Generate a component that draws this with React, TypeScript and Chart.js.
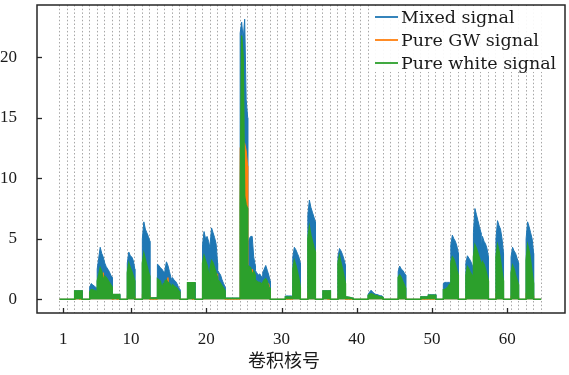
import React, { useEffect, useRef } from "react";
import { Chart, registerables } from "chart.js";

Chart.register(...registerables);

// kernel index (卷积核号) 1..64, six samples across each kernel
const kernelCount = 64;
const samplesPerKernel = 6;

const mixedSignal: number[][] = [
  [0, 0, 0, 0, 0, 0], // 1
  [0, 0, 0, 0, 0, 0], // 2
  [0.7, 0.7, 0.7, 0.7, 0.7, 0.7], // 3
  [0, 0, 0, 0, 0, 0], // 4
  [1.0, 1.3, 1.2, 1.1, 1.0, 0.9], // 5
  [2.5, 3.4, 4.3, 3.8, 3.5, 3.0], // 6
  [3.0, 2.7, 2.5, 2.3, 2.0, 1.8], // 7
  [0.4, 0.4, 0.4, 0.4, 0.4, 0.4], // 8
  [0, 0, 0, 0, 0, 0], // 9
  [3.0, 3.9, 3.6, 3.5, 3.2, 2.5], // 10
  [0, 0, 0, 0, 0, 0], // 11
  [5.0, 6.4, 5.8, 5.5, 5.2, 4.8], // 12
  [0.12, 0.12, 0.12, 0.12, 0.12, 0.12], // 13
  [2.9, 2.8, 2.6, 2.5, 2.3, 2.2], // 14
  [2.4, 3.1, 2.8, 2.3, 1.8, 1.5], // 15
  [1.8, 1.6, 1.5, 1.3, 1.0, 0.8], // 16
  [0, 0, 0, 0, 0, 0], // 17
  [1.37, 1.37, 1.37, 1.37, 1.37, 1.37], // 18
  [0, 0, 0, 0, 0, 0], // 19
  [4.5, 5.6, 5.0, 5.2, 4.8, 4.2], // 20
  [4.5, 5.9, 5.5, 5.1, 4.6, 3.0], // 21
  [2.4, 2.2, 2.0, 1.6, 1.3, 1.0], // 22
  [0.1, 0.1, 0.1, 0.1, 0.1, 0.1], // 23
  [0.1, 0.1, 0.1, 0.1, 0.1, 0.1], // 24
  [22.0, 22.9, 21.5, 23.15, 16.5, 15.0], // 25
  [4.5, 5.0, 5.2, 5.2, 3.5, 2.8], // 26
  [2.4, 2.2, 2.0, 2.1, 1.9, 1.8], // 27
  [2.2, 2.5, 2.8, 2.4, 2.0, 1.5], // 28
  [0, 0, 0, 0, 0, 0], // 29
  [0, 0, 0, 0, 0, 0], // 30
  [0.28, 0.28, 0.28, 0.28, 0.28, 0.28], // 31
  [3.5, 4.3, 4.1, 3.8, 3.5, 3.0], // 32
  [0, 0, 0, 0, 0, 0], // 33
  [7.0, 8.2, 7.6, 7.2, 6.8, 6.4], // 34
  [0, 0, 0, 0, 0, 0], // 35
  [0.7, 0.7, 0.7, 0.7, 0.7, 0.7], // 36
  [0, 0, 0, 0, 0, 0], // 37
  [3.5, 4.2, 4.0, 3.7, 3.3, 2.8], // 38
  [0.2, 0.2, 0.18, 0.15, 0.12, 0.1], // 39
  [0, 0, 0, 0, 0, 0], // 40
  [0, 0, 0, 0, 0, 0], // 41
  [0.4, 0.6, 0.75, 0.6, 0.5, 0.4], // 42
  [0.4, 0.4, 0.35, 0.3, 0.3, 0.2], // 43
  [0, 0, 0, 0, 0, 0], // 44
  [0, 0, 0, 0, 0, 0], // 45
  [2.3, 2.75, 2.5, 2.4, 2.2, 2.0], // 46
  [0, 0, 0, 0, 0, 0], // 47
  [0, 0, 0, 0, 0, 0], // 48
  [0.22, 0.22, 0.22, 0.22, 0.22, 0.22], // 49
  [0.38, 0.38, 0.38, 0.38, 0.38, 0.38], // 50
  [0, 0, 0, 0, 0, 0], // 51
  [1.3, 1.4, 1.4, 1.4, 1.4, 1.4], // 52
  [4.5, 5.3, 5.0, 4.8, 4.4, 3.8], // 53
  [0, 0, 0, 0, 0, 0], // 54
  [3.0, 3.6, 3.4, 3.2, 2.9, 2.5], // 55
  [5.5, 7.5, 7.0, 6.5, 6.0, 5.5], // 56
  [4.0, 5.2, 4.8, 4.6, 4.2, 3.5], // 57
  [0, 0, 0, 0, 0, 0], // 58
  [5.0, 6.5, 6.1, 5.8, 5.0, 3.8], // 59
  [0, 0, 0, 0, 0, 0], // 60
  [3.5, 4.3, 4.0, 3.8, 3.4, 3.0], // 61
  [0, 0, 0, 0, 0, 0], // 62
  [5.0, 6.4, 6.0, 5.5, 5.0, 3.8], // 63
  [0, 0, 0, 0, 0, 0], // 64
];

const gwSignal: number[][] = [
  [0, 0, 0, 0, 0, 0], // 1
  [0, 0, 0, 0, 0, 0], // 2
  [0, 0, 0.15, 0, 0, 0], // 3
  [0, 0, 0, 0, 0, 0], // 4
  [0.1, 0.2, 0.2, 0.2, 0.1, 0.1], // 5
  [0.3, 0.6, 1.0, 1.2, 2.2, 0.5], // 6
  [0.3, 0.3, 0.2, 0.2, 0.2, 0.1], // 7
  [0, 0, 0.1, 0, 0, 0], // 8
  [0, 0, 0, 0, 0, 0], // 9
  [0.3, 0.5, 0.5, 0.4, 0.3, 0.2], // 10
  [0, 0, 0, 0, 0, 0], // 11
  [0.4, 0.6, 0.6, 0.5, 0.4, 0.3], // 12
  [0, 0, 0, 0, 0, 0], // 13
  [0.3, 0.3, 0.4, 1.0, 0.4, 0.3], // 14
  [0.3, 0.6, 1.8, 0.5, 0.3, 0.2], // 15
  [0.2, 0.2, 0.2, 0.2, 0.1, 0.1], // 16
  [0, 0, 0, 0, 0, 0], // 17
  [0, 0.3, 0.3, 0, 0, 0], // 18
  [0, 0, 0, 0, 0, 0], // 19
  [0.4, 0.6, 0.6, 0.5, 0.4, 0.3], // 20
  [0.4, 0.6, 0.6, 0.5, 0.4, 2.1], // 21
  [0.2, 0.2, 0.2, 0.2, 0.1, 0.1], // 22
  [0, 0, 0, 0, 0, 0], // 23
  [0, 0, 0, 0, 0, 0], // 24
  [12.5, 13.0, 13.0, 12.9, 12.3, 11.0], // 25
  [0.5, 0.8, 1.0, 2.5, 1.0, 0.5], // 26
  [0.3, 0.3, 0.3, 0.3, 0.2, 0.2], // 27
  [0.3, 0.5, 0.8, 1.2, 1.3, 0.5], // 28
  [0, 0, 0, 0, 0, 0], // 29
  [0, 0, 0, 0, 0, 0], // 30
  [0, 0, 0, 0, 0, 0], // 31
  [0.3, 0.5, 0.5, 0.4, 0.3, 0.2], // 32
  [0, 0, 0, 0, 0, 0], // 33
  [0.5, 0.8, 0.8, 0.7, 0.6, 0.5], // 34
  [0, 0, 0, 0, 0, 0], // 35
  [0, 0.2, 0.2, 0, 0, 0], // 36
  [0, 0, 0, 0, 0, 0], // 37
  [0.3, 0.5, 0.5, 0.4, 0.3, 0.2], // 38
  [0, 0, 0, 0, 0, 0], // 39
  [0, 0, 0, 0, 0, 0], // 40
  [0, 0, 0, 0, 0, 0], // 41
  [0.1, 0.2, 0.3, 0.45, 0.2, 0.1], // 42
  [0.1, 0.1, 0.1, 0.1, 0.1, 0.05], // 43
  [0, 0, 0, 0, 0, 0], // 44
  [0, 0, 0, 0, 0, 0], // 45
  [0.2, 0.3, 0.3, 0.3, 0.2, 0.2], // 46
  [0, 0, 0, 0, 0, 0], // 47
  [0, 0, 0, 0, 0, 0], // 48
  [0, 0, 0, 0, 0, 0], // 49
  [0, 0, 0, 0, 0, 0], // 50
  [0, 0, 0, 0, 0, 0], // 51
  [0.1, 0.1, 0.1, 0.1, 0.1, 0.1], // 52
  [0.4, 0.5, 0.5, 0.4, 0.4, 0.3], // 53
  [0, 0, 0, 0, 0, 0], // 54
  [0.3, 0.4, 0.4, 0.3, 0.3, 0.2], // 55
  [0.5, 0.7, 0.7, 0.6, 0.5, 0.5], // 56
  [0.4, 0.5, 0.5, 0.4, 0.4, 0.3], // 57
  [0, 0, 0, 0, 0, 0], // 58
  [0.5, 0.6, 0.6, 0.5, 0.4, 0.3], // 59
  [0, 0, 0, 0, 0, 0], // 60
  [0.3, 0.4, 0.4, 0.3, 0.3, 0.2], // 61
  [0, 0, 0, 0, 0, 0], // 62
  [0.5, 0.6, 0.6, 0.5, 0.4, 0.3], // 63
  [0, 0, 0, 0, 0, 0], // 64
];

const whiteSignal: number[][] = [
  [0, 0, 0, 0, 0, 0], // 1
  [0, 0, 0, 0, 0, 0], // 2
  [0.7, 0.7, 0.7, 0.7, 0.7, 0.7], // 3
  [0, 0, 0, 0, 0, 0], // 4
  [0.6, 0.8, 0.8, 0.7, 0.7, 0.6], // 5
  [1.5, 2.0, 2.6, 2.3, 1.7, 1.8], // 6
  [1.9, 1.8, 1.6, 1.4, 1.2, 1.0], // 7
  [0.4, 0.4, 0.4, 0.4, 0.4, 0.4], // 8
  [0, 0, 0, 0, 0, 0], // 9
  [2.2, 3.0, 2.6, 2.3, 1.9, 1.5], // 10
  [0, 0, 0, 0, 0, 0], // 11
  [3.0, 3.8, 3.3, 2.8, 2.3, 1.9], // 12
  [0.12, 0.12, 0.12, 0.12, 0.12, 0.12], // 13
  [1.7, 1.6, 1.5, 0.9, 1.3, 1.2], // 14
  [1.5, 1.6, 1.4, 1.3, 1.1, 1.0], // 15
  [1.2, 1.1, 1.0, 0.9, 0.7, 0.6], // 16
  [0, 0, 0, 0, 0, 0], // 17
  [1.37, 1.37, 1.37, 1.37, 1.37, 1.37], // 18
  [0, 0, 0, 0, 0, 0], // 19
  [3.0, 3.6, 3.2, 2.8, 2.2, 1.8], // 20
  [2.5, 3.2, 3.0, 2.6, 2.2, 1.8], // 21
  [1.6, 1.5, 1.3, 1.1, 0.9, 0.7], // 22
  [0.1, 0.1, 0.1, 0.1, 0.1, 0.1], // 23
  [0.1, 0.1, 0.1, 0.1, 0.1, 0.1], // 24
  [7.6, 21.8, 20.0, 8.5, 7.8, 7.5], // 25
  [2.8, 2.7, 2.6, 2.0, 2.3, 2.0], // 26
  [1.6, 1.5, 1.4, 1.4, 1.3, 1.2], // 27
  [1.4, 1.6, 1.7, 1.5, 1.0, 0.9], // 28
  [0, 0, 0, 0, 0, 0], // 29
  [0, 0, 0, 0, 0, 0], // 30
  [0.2, 0.2, 0.2, 0.2, 0.2, 0.2], // 31
  [2.5, 3.2, 2.8, 2.3, 1.7, 1.0], // 32
  [0, 0, 0, 0, 0, 0], // 33
  [5.0, 6.0, 5.3, 4.8, 4.3, 3.9], // 34
  [0, 0, 0, 0, 0, 0], // 35
  [0.7, 0.7, 0.7, 0.7, 0.7, 0.7], // 36
  [0, 0, 0, 0, 0, 0], // 37
  [3.0, 3.6, 3.0, 2.5, 1.9, 1.3], // 38
  [0.2, 0.2, 0.18, 0.15, 0.12, 0.1], // 39
  [0, 0, 0, 0, 0, 0], // 40
  [0, 0, 0, 0, 0, 0], // 41
  [0.3, 0.4, 0.45, 0.4, 0.35, 0.3], // 42
  [0.3, 0.3, 0.25, 0.2, 0.2, 0.15], // 43
  [0, 0, 0, 0, 0, 0], // 44
  [0, 0, 0, 0, 0, 0], // 45
  [1.8, 2.0, 1.8, 1.5, 1.2, 0.9], // 46
  [0, 0, 0, 0, 0, 0], // 47
  [0, 0, 0, 0, 0, 0], // 48
  [0.2, 0.2, 0.2, 0.2, 0.2, 0.2], // 49
  [0.35, 0.35, 0.35, 0.35, 0.35, 0.35], // 50
  [0, 0, 0, 0, 0, 0], // 51
  [0.8, 0.8, 0.9, 1.0, 1.2, 1.3], // 52
  [3.0, 3.5, 3.3, 2.9, 2.4, 2.0], // 53
  [0, 0, 0, 0, 0, 0], // 54
  [2.0, 2.7, 2.5, 2.2, 2.0, 1.8], // 55
  [3.5, 4.5, 4.2, 3.8, 3.4, 3.0], // 56
  [2.5, 3.1, 2.9, 2.5, 2.0, 1.5], // 57
  [0, 0, 0, 0, 0, 0], // 58
  [3.5, 4.5, 4.0, 3.2, 2.3, 1.5], // 59
  [0, 0, 0, 0, 0, 0], // 60
  [2.2, 2.8, 2.5, 2.0, 1.6, 1.2], // 61
  [0, 0, 0, 0, 0, 0], // 62
  [3.2, 4.5, 4.0, 3.2, 2.2, 1.3], // 63
  [0, 0, 0, 0, 0, 0], // 64
];

const xTickValues = [1, 10, 20, 30, 40, 50, 60];
const yTickValues = [0, 5, 10, 15, 20];
const seriesLabels = ["Mixed signal", "Pure GW signal", "Pure white signal"];
const seriesColors = ["#1f77b4", "#ff7f0e", "#2ca02c"];
const xTitle = "卷积核号";

const X_MIN = -2.5;
const X_MAX = 67.67;
const Y_MIN = -1.13;
const Y_MAX = 24.32;

function toPoints(rows: number[][]) {
  const pts: { x: number; y: number }[] = [];
  rows.forEach((row, i) => {
    const k = i + 1;
    row.forEach((v, j) => {
      pts.push({ x: k - 0.5 + j / (samplesPerKernel - 1), y: v });
    });
  });
  return pts;
}

const gridPositions: number[] = [];
for (let k = 0; k <= kernelCount; k++) gridPositions.push(k + 0.5);

function zeroPad(s: any) {
  s.paddingTop = 0;
  s.paddingBottom = 0;
  s.paddingLeft = 0;
  s.paddingRight = 0;
}

const decorPlugin = {
  id: "decor",
  afterDraw(chart: any) {
    const { ctx, chartArea: a, scales } = chart;
    ctx.save();
    // frame
    ctx.strokeStyle = "#262626";
    ctx.lineWidth = 1.5;
    ctx.strokeRect(a.left, a.top, a.right - a.left, a.bottom - a.top);
    // inward ticks
    ctx.lineWidth = 1.3;
    xTickValues.forEach((v) => {
      const px = Math.round(scales.x.getPixelForValue(v)) + 0.5;
      ctx.beginPath();
      ctx.moveTo(px, a.bottom);
      ctx.lineTo(px, a.bottom - 5);
      ctx.stroke();
    });
    yTickValues.forEach((v) => {
      const py = Math.round(scales.y.getPixelForValue(v)) + 0.5;
      ctx.beginPath();
      ctx.moveTo(a.left, py);
      ctx.lineTo(a.left + 5, py);
      ctx.stroke();
    });
    // legend
    const lx = 370;
    const ly = a.top + 1;
    const lw = a.right - 2 - lx;
    const lh = 66;
    ctx.fillStyle = "rgba(255,255,255,0.92)";
    ctx.fillRect(lx, ly, lw, lh);
    ctx.font = '17.5px "DejaVu Serif"';
    ctx.textAlign = "left";
    ctx.textBaseline = "middle";
    seriesLabels.forEach((label, i) => {
      const y = 17 + i * 23;
      ctx.strokeStyle = seriesColors[i];
      ctx.lineWidth = 1.8;
      ctx.beginPath();
      ctx.moveTo(375, y);
      ctx.lineTo(398, y);
      ctx.stroke();
      ctx.fillStyle = "#1a1a1a";
      ctx.fillText(label, 401, y + 1);
    });
    // x title
    ctx.font = '18px "Noto Sans CJK SC"';
    ctx.textAlign = "center";
    ctx.fillStyle = "#1a1a1a";
    ctx.fillText(xTitle, 284, 360);
    ctx.restore();
  },
};

export default function App() {
  const ref = useRef<HTMLCanvasElement | null>(null);

  useEffect(() => {
    if (!ref.current) return;
    const mk = (i: number, rows: number[][], order: number) => ({
      label: seriesLabels[i],
      data: toPoints(rows),
      borderColor: seriesColors[i],
      backgroundColor: seriesColors[i],
      borderWidth: 1,
      pointRadius: 0,
      tension: 0,
      fill: "origin",
      order,
    });
    const chart = new Chart(ref.current, {
      type: "line",
      data: {
        datasets: [
          mk(0, mixedSignal, 3),
          mk(1, gwSignal, 2),
          { ...mk(2, whiteSignal, 1), borderWidth: 1.4 },
        ],
      },
      options: {
        animation: false,
        responsive: false,
        devicePixelRatio: 1,
        layout: { padding: { top: 5, right: 4, left: 0, bottom: 0 } },
        plugins: { legend: { display: false }, tooltip: { enabled: false } },
        scales: {
          xg: {
            type: "linear",
            position: "top",
            min: X_MIN,
            max: X_MAX,
            afterBuildTicks: (s: any) => {
              s.ticks = gridPositions.map((v) => ({ value: v }));
            },
            afterFit: (s: any) => {
              s.height = 0;
              zeroPad(s);
            },
            ticks: { display: false, autoSkip: false },
            grid: { display: true, drawTicks: false, color: "#a6a6a6", lineWidth: 1 },
            border: { display: false, dash: [1.5, 2.2] },
          },
          x: {
            type: "linear",
            position: "bottom",
            min: X_MIN,
            max: X_MAX,
            afterBuildTicks: (s: any) => {
              s.ticks = xTickValues.map((v) => ({ value: v }));
            },
            afterFit: (s: any) => {
              s.height = 62;
              zeroPad(s);
            },
            ticks: {
              autoSkip: false,
              maxRotation: 0,
              padding: 8,
              color: "#1a1a1a",
              font: { family: '"Liberation Serif"', size: 17 },
              callback: (v: any) => String(v),
            },
            grid: { display: false },
            border: { display: false },
          },
          y: {
            type: "linear",
            min: Y_MIN,
            max: Y_MAX,
            afterBuildTicks: (s: any) => {
              s.ticks = yTickValues.map((v) => ({ value: v }));
            },
            afterFit: (s: any) => {
              s.width = 37;
              zeroPad(s);
            },
            ticks: {
              padding: 12,
              color: "#1a1a1a",
              font: { family: '"Liberation Serif"', size: 17 },
              callback: (v: any) => String(v),
            },
            grid: { display: false },
            border: { display: false },
          },
        },
      } as any,
      plugins: [decorPlugin],
    });
    return () => chart.destroy();
  }, []);

  return (
    <div style={{ position: "absolute", left: 0, top: 0, width: 569, height: 375 }}>
      <canvas ref={ref} width={569} height={375} style={{ display: "block" }} />
    </div>
  );
}
